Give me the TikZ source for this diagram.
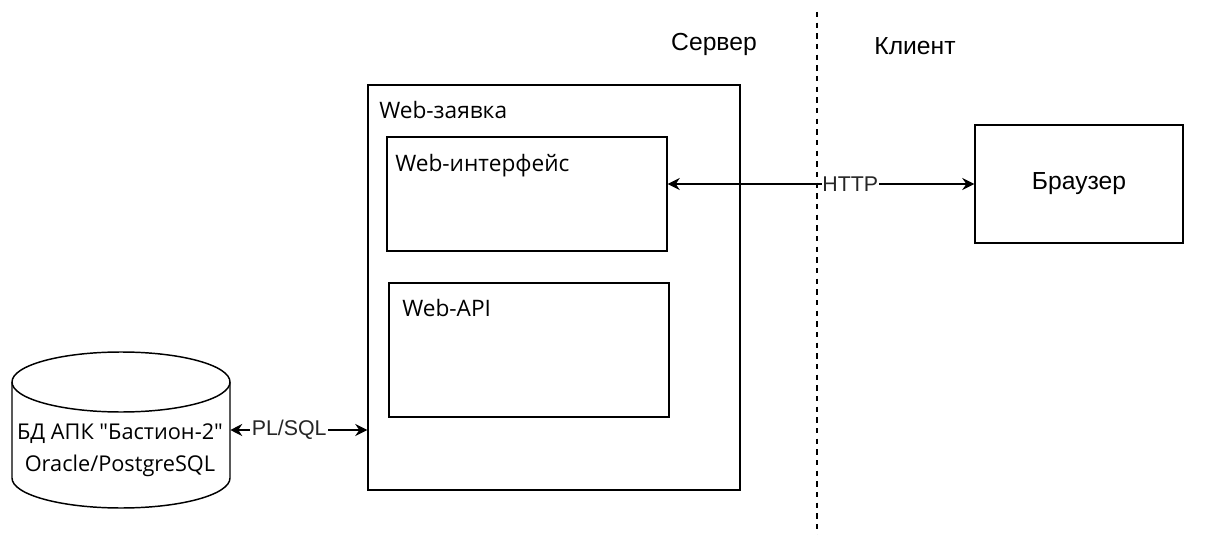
\documentclass[tikz,border=0pt]{standalone}
\usepackage{fontspec}
\setmainfont{Liberation Sans}
\newfontfamily\uifont{Open Sans}
\usetikzlibrary{arrows.meta,shapes.geometric}
\begin{document}
\begin{tikzpicture}[x=0.75pt,y=-0.75pt,
  box/.style={draw,line width=1.1pt},
  arr/.style={line width=1.1pt,{Stealth[length=9pt,width=9pt,inset=3pt]}-{Stealth[length=9pt,width=9pt,inset=3pt]}},
  uilab/.style={font=\uifont\fontsize{17}{20}\selectfont,anchor=north west,inner sep=0pt},
  arlab/.style={font=\fontsize{18.5}{22}\selectfont,inner sep=0pt},
  edgelab/.style={font=\fontsize{16}{19}\selectfont,inner sep=0pt,text=black!85,fill=white}]
\useasboundingbox (0,0) rectangle (1215,535);
\fill[white] (0,0) rectangle (1215,535);
% separator
\coordinate (sepT) at (817,12);
\coordinate (sepB) at (817,535);
\draw[line width=1.1pt,dash pattern=on 4pt off 4pt] (sepT) -- (sepB);
\node[arlab] (server) at (714,44) {Сервер};
\node[arlab] (client) at (915,46) {Клиент};
% outer app box
\node[box,minimum width=372*0.75pt,minimum height=405*0.75pt,inner sep=0pt] (app) at (554,287.5) {};
\node[uilab] (applab) at (379,101) {Web-заявка};
\node[box,minimum width=280*0.75pt,minimum height=114*0.75pt,inner sep=0pt] (ui) at (527,194) {};
\node[uilab] (uilab) at (395,154) {Web-интерфейс};
\node[box,minimum width=280*0.75pt,minimum height=134*0.75pt,inner sep=0pt] (api) at (529,350) {};
\node[uilab] (apilab) at (402,299) {Web-API};
% browser
\node[box,minimum width=208*0.75pt,minimum height=118*0.75pt,inner sep=0pt,font=\fontsize{18.5}{22}\selectfont] (br) at (1079,184) {Браузер};
% database cylinder
\node[inner sep=0pt,minimum width=218*0.75pt,minimum height=156*0.75pt] (db) at (121,430) {};
\draw[line width=1.1pt] (121,382) ellipse[x radius=109,y radius=30];
\draw[line width=1.1pt] (12,382) -- (12,478)
  arc[start angle=180,end angle=0,x radius=109,y radius=30] -- (230,382);
\node[font=\uifont\fontsize{16.3}{19}\selectfont,align=center,inner sep=0pt] (dblab) at (120,450) {БД АПК "Бастион-2"\\[5pt]Oracle/PostgreSQL};
% connectors
\coordinate (uiE) at (ui.east |- br.west);
\draw[arr] (uiE) -- (br.west) node[edgelab,pos=0.5,anchor=center,xshift=22pt,inner xsep=0.5pt] (http) {HTTP};
\draw[arr] (db.east) -- (app.west |- db.east) node[edgelab,pos=0.43,inner xsep=1pt] (pl) {PL/SQL};
\end{tikzpicture}
\end{document}
